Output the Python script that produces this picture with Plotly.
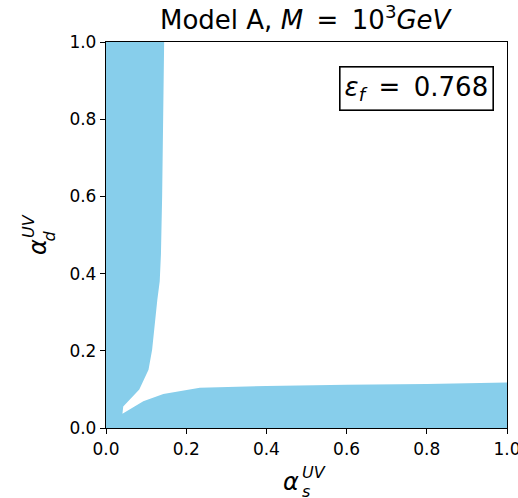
import plotly.graph_objects as go

# Boundary of the white (excluded) region
# vertical band right edge, from top to bottom
edge_v_x = [0.145, 0.143, 0.140, 0.137, 0.134, 0.128, 0.120, 0.115, 0.106, 0.083, 0.043]
edge_v_y = [1.000, 0.800, 0.600, 0.450, 0.380, 0.332, 0.246, 0.203, 0.151, 0.100, 0.056]
# tip and lower band upper edge, from left to right
edge_h_x = [0.041, 0.093, 0.143, 0.234, 0.400, 0.600, 0.800, 1.000]
edge_h_y = [0.037, 0.069, 0.088, 0.104, 0.109, 0.112, 0.114, 0.118]

xticks = [0.0, 0.2, 0.4, 0.6, 0.8, 1.0]
yticks = [0.0, 0.2, 0.4, 0.6, 0.8, 1.0]
eps_f = 0.768

poly_x = [0, 0] + edge_v_x + edge_h_x + [1]
poly_y = [0, 1] + edge_v_y + edge_h_y + [0]

fig = go.Figure()
fig.add_trace(go.Scatter(x=poly_x, y=poly_y, fill="toself", mode="lines",
                         fillcolor="#87CEEB", line=dict(width=0, color="#87CEEB"),
                         hoverinfo="skip", showlegend=False))

W, H = 518, 498
L, R, T, B = 106, 11, 42, 70
pw, ph = W - L - R, H - T - B

def px(x):
    return (x - L) / pw

def py(y):
    return (H - B - y) / ph

font = "DejaVu Sans"
TS = "\u2009"
axis_common = dict(range=[0, 1], showgrid=False, zeroline=False, showline=True,
                   linecolor="black", linewidth=1.3, mirror=True, ticks="outside",
                   ticklen=5, tickwidth=1.3, tickcolor="black",
                   tickfont=dict(family=font, size=17, color="black"),
                   tickformat=".1f", ticklabeloverflow="allow", automargin=False)
fig.update_xaxes(tickvals=xticks, **axis_common)
fig.update_yaxes(tickvals=yticks, **axis_common)

ann = []
# title
ann.append(dict(text="Model A, <i>M</i>" + TS + " = " + TS + "10<sup>3</sup><i>GeV</i>", x=0.5, y=1,
                xref="paper", yref="paper", xanchor="center", yanchor="bottom", yshift=5,
                showarrow=False, font=dict(family=font, size=26, color="black")))
# epsilon box
ann.append(dict(text="<i>ε</i><sub><i>f</i></sub>" + TS + " = " + TS + f"{eps_f:.3f}",
                x=px(494), y=py(66),
                xref="paper", yref="paper", xanchor="right", yanchor="top",
                showarrow=False, bgcolor="white", bordercolor="black", borderwidth=1.6,
                borderpad=4, font=dict(family=font, size=26, color="black")))
# x label
ann.append(dict(text="<i>α</i>", x=px(291), y=py(482), xref="paper", yref="paper",
                xanchor="center", yanchor="middle", showarrow=False,
                font=dict(family=font, size=24, color="black")))
ann.append(dict(text="<i>UV</i>", x=px(300), y=py(472), xref="paper", yref="paper",
                xanchor="left", yanchor="middle", showarrow=False,
                font=dict(family=font, size=16, color="black")))
ann.append(dict(text="<i>s</i>", x=px(300), y=py(492), xref="paper", yref="paper",
                xanchor="left", yanchor="middle", showarrow=False,
                font=dict(family=font, size=16, color="black")))
# y label
ann.append(dict(text="<i>α</i>", x=px(38), y=py(247), xref="paper", yref="paper",
                xanchor="center", yanchor="middle", textangle=-90, showarrow=False,
                font=dict(family=font, size=24, color="black")))
ann.append(dict(text="<i>UV</i>", x=px(28), y=py(240), xref="paper", yref="paper",
                xanchor="center", yanchor="bottom", textangle=-90, showarrow=False,
                font=dict(family=font, size=16, color="black")))
ann.append(dict(text="<i>d</i>", x=px(49), y=py(244), xref="paper", yref="paper",
                xanchor="center", yanchor="bottom", textangle=-90, showarrow=False,
                font=dict(family=font, size=16, color="black")))

fig.update_layout(width=W, height=H, margin=dict(l=L, r=R, t=T, b=B),
                  paper_bgcolor="white", plot_bgcolor="white",
                  annotations=ann, showlegend=False)

fig.write_html("out.html", config={"displayModeBar": False},
               post_script="document.body.style.margin='0';document.body.style.overflow='hidden';")
